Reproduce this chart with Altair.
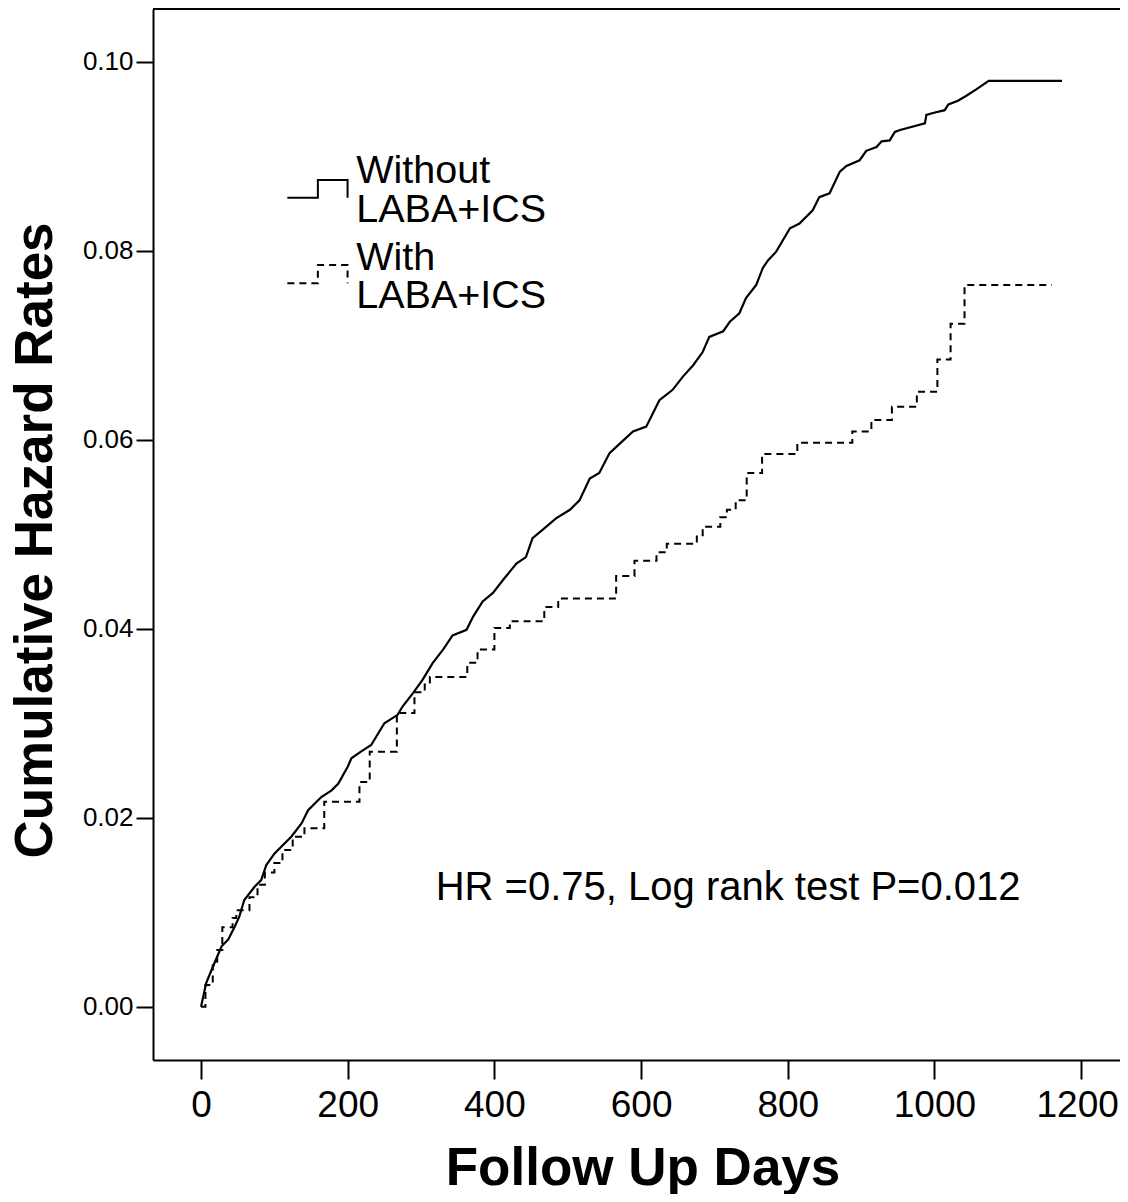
import altair as alt
import pandas as pd

# Without LABA+ICS (solid) – cumulative hazard
without_days = [0, 7, 16, 28, 37, 46, 52, 59, 73, 82, 89, 100, 109, 123, 137, 146, 164, 178, 187,
                200, 205, 218, 232, 239, 250, 268, 275, 289, 302, 316, 330, 343, 362, 371, 384,
                398, 412, 430, 443, 452, 466, 484, 503, 516, 530, 543, 557, 571, 589, 607, 625,
                643, 657, 671, 684, 693, 712, 721, 734, 743, 757, 766, 773, 784, 803, 816, 834,
                843, 857, 871, 880, 898, 907, 921, 928, 939, 946, 953, 987, 989, 998, 1014, 1019,
                1032, 1043, 1057, 1074, 1174]
without_vals = [0.0, 0.0025, 0.0042, 0.0064, 0.0071, 0.0085, 0.0095, 0.0113, 0.0127, 0.0134, 0.0150,
                0.0162, 0.0169, 0.0180, 0.0194, 0.0208, 0.0222, 0.0229, 0.0236, 0.0254, 0.0263,
                0.0270, 0.0277, 0.0286, 0.0300, 0.0309, 0.0318, 0.0332, 0.0346, 0.0364, 0.0378,
                0.0393, 0.0399, 0.0413, 0.0429, 0.0438, 0.0452, 0.0469, 0.0476, 0.0496, 0.0505,
                0.0517, 0.0526, 0.0536, 0.0559, 0.0565, 0.0586, 0.0596, 0.0609, 0.0614, 0.0642,
                0.0653, 0.0667, 0.0679, 0.0693, 0.0709, 0.0715, 0.0725, 0.0734, 0.0750, 0.0764,
                0.0782, 0.0790, 0.0799, 0.0824, 0.0829, 0.0843, 0.0857, 0.0861, 0.0884, 0.0890,
                0.0896, 0.0906, 0.0910, 0.0916, 0.0917, 0.0926, 0.0928, 0.0935, 0.0944, 0.0946,
                0.0949, 0.0955, 0.0959, 0.0964, 0.0971, 0.0980, 0.0980]

# With LABA+ICS (dashed)
with_days = [0, 6, 16, 22, 29, 43, 48, 66, 77, 87, 100, 111, 125, 141, 168, 216, 230, 267, 291,
             305, 312, 363, 377, 400, 421, 468, 487, 566, 591, 621, 635, 676, 684, 708, 717, 729,
             744, 765, 813, 888, 914, 942, 976, 1004, 1022, 1041, 1160]
with_vals = [0.0, 0.0023, 0.0044, 0.0060, 0.0084, 0.0094, 0.0102, 0.0116, 0.0129, 0.0142, 0.0152,
             0.0166, 0.0180, 0.0189, 0.0217, 0.0238, 0.0270, 0.0311, 0.0333, 0.0341, 0.0349,
             0.0364, 0.0378, 0.0401, 0.0408, 0.0423, 0.0432, 0.0456, 0.0472, 0.0481, 0.0490,
             0.0499, 0.0508, 0.0518, 0.0526, 0.0536, 0.0565, 0.0585, 0.0597, 0.0609, 0.0621,
             0.0635, 0.0651, 0.0685, 0.0723, 0.0764, 0.0764]

x_ticks = [0, 200, 400, 600, 800, 1000, 1200]
y_ticks = [0.0, 0.02, 0.04, 0.06, 0.08, 0.10]
x_domain = [-65.5, 1253]
y_domain = [-0.00564, 0.10561]

# legend (drawn inside the plot, in data units)
legend_glyph_days = [117.7, 159.3, 199.8]
legend_solid_vals = [0.08564, 0.08751, 0.08564]
legend_dash_vals = [0.07658, 0.07851, 0.07658]
legend_text = ["Without", "LABA+ICS", "With", "LABA+ICS"]
legend_text_day = [211.6, 211.6, 211.6, 211.6]
legend_text_val = [0.08716, 0.08310, 0.07799, 0.07393]

annot_text = ["HR =0.75, Log rank test P=0.012"]
annot_day = [320]
annot_val = [0.0113]

FONT = "Liberation Sans"
W, H = 967, 1051

xs = alt.Scale(domain=x_domain, nice=False, zero=False)
ys = alt.Scale(domain=y_domain, nice=False, zero=False)

x_axis = alt.Axis(values=x_ticks, format="d", title="Follow Up Days", grid=False,
                  titleFont=FONT, titleFontSize=53, titleFontWeight="bold", titleColor="black",
                  titleX=489.5, titleY=124, titleAlign="center", titleBaseline="alphabetic",
                  labelFont=FONT, labelFontSize=37, labelColor="black", labelPadding=8,
                  labelOffset=alt.condition("datum.value === 1200", alt.value(-4), alt.value(0)),
                  labelFlush=False, labelOverlap=False,
                  tickSize=19, tickWidth=2, tickColor="black",
                  domainColor="black", domainWidth=2)
y_axis = alt.Axis(values=y_ticks, format=".2f", title="Cumulative Hazard Rates", grid=False,
                  titleFont=FONT, titleFontSize=53, titleFontWeight="bold", titleColor="black",
                  titleAngle=270, titleX=-102, titleY=531, titleAlign="center",
                  titleBaseline="alphabetic",
                  labelFont=FONT, labelFontSize=26, labelColor="black", labelPadding=3,
                  labelFlush=False, labelOverlap=False,
                  tickSize=17, tickWidth=2, tickColor="black",
                  domainColor="black", domainWidth=2)

df_without = pd.DataFrame({"day": without_days, "value": without_vals})
df_with = pd.DataFrame({"day": with_days, "value": with_vals})

solid = alt.Chart(df_without).mark_line(interpolate="linear", color="black", strokeWidth=2.2).encode(
    x=alt.X("day:Q", scale=xs, axis=x_axis),
    y=alt.Y("value:Q", scale=ys, axis=y_axis),
)
dashed = alt.Chart(df_with).mark_line(interpolate="step-after", color="black", strokeWidth=2,
                                      strokeDash=[7, 5]).encode(
    x=alt.X("day:Q", scale=xs),
    y=alt.Y("value:Q", scale=ys),
)

leg_solid = alt.Chart(pd.DataFrame({"day": legend_glyph_days, "value": legend_solid_vals})).mark_line(
    interpolate="step-after", color="black", strokeWidth=2).encode(
    x=alt.X("day:Q", scale=xs), y=alt.Y("value:Q", scale=ys))
leg_dash = alt.Chart(pd.DataFrame({"day": legend_glyph_days, "value": legend_dash_vals})).mark_line(
    interpolate="step-after", color="black", strokeWidth=2, strokeDash=[7, 5]).encode(
    x=alt.X("day:Q", scale=xs), y=alt.Y("value:Q", scale=ys))

leg_txt = alt.Chart(pd.DataFrame({"day": legend_text_day, "value": legend_text_val,
                                  "t": legend_text})).mark_text(
    align="left", baseline="alphabetic", font=FONT, fontSize=39.5, color="black").encode(
    x=alt.X("day:Q", scale=xs), y=alt.Y("value:Q", scale=ys), text="t:N")

annot = alt.Chart(pd.DataFrame({"day": annot_day, "value": annot_val, "t": annot_text})).mark_text(
    align="left", baseline="alphabetic", font=FONT, fontSize=40, color="black").encode(
    x=alt.X("day:Q", scale=xs), y=alt.Y("value:Q", scale=ys), text="t:N")

top_border = alt.Chart(pd.DataFrame({"a": [0]})).mark_rule(color="black", strokeWidth=2).encode(
    x=alt.value(0), x2=alt.value(W), y=alt.value(0))

chart = alt.layer(solid, dashed, leg_solid, leg_dash, leg_txt, annot, top_border).properties(
    width=W, height=H,
    background="white",
    autosize=alt.AutoSizeParams(type="none"),
    padding={"left": 145, "top": 1, "right": 0, "bottom": 134},
).configure_view(strokeWidth=0)

chart.save("out.html", embed_options={"renderer": "svg", "actions": False})
